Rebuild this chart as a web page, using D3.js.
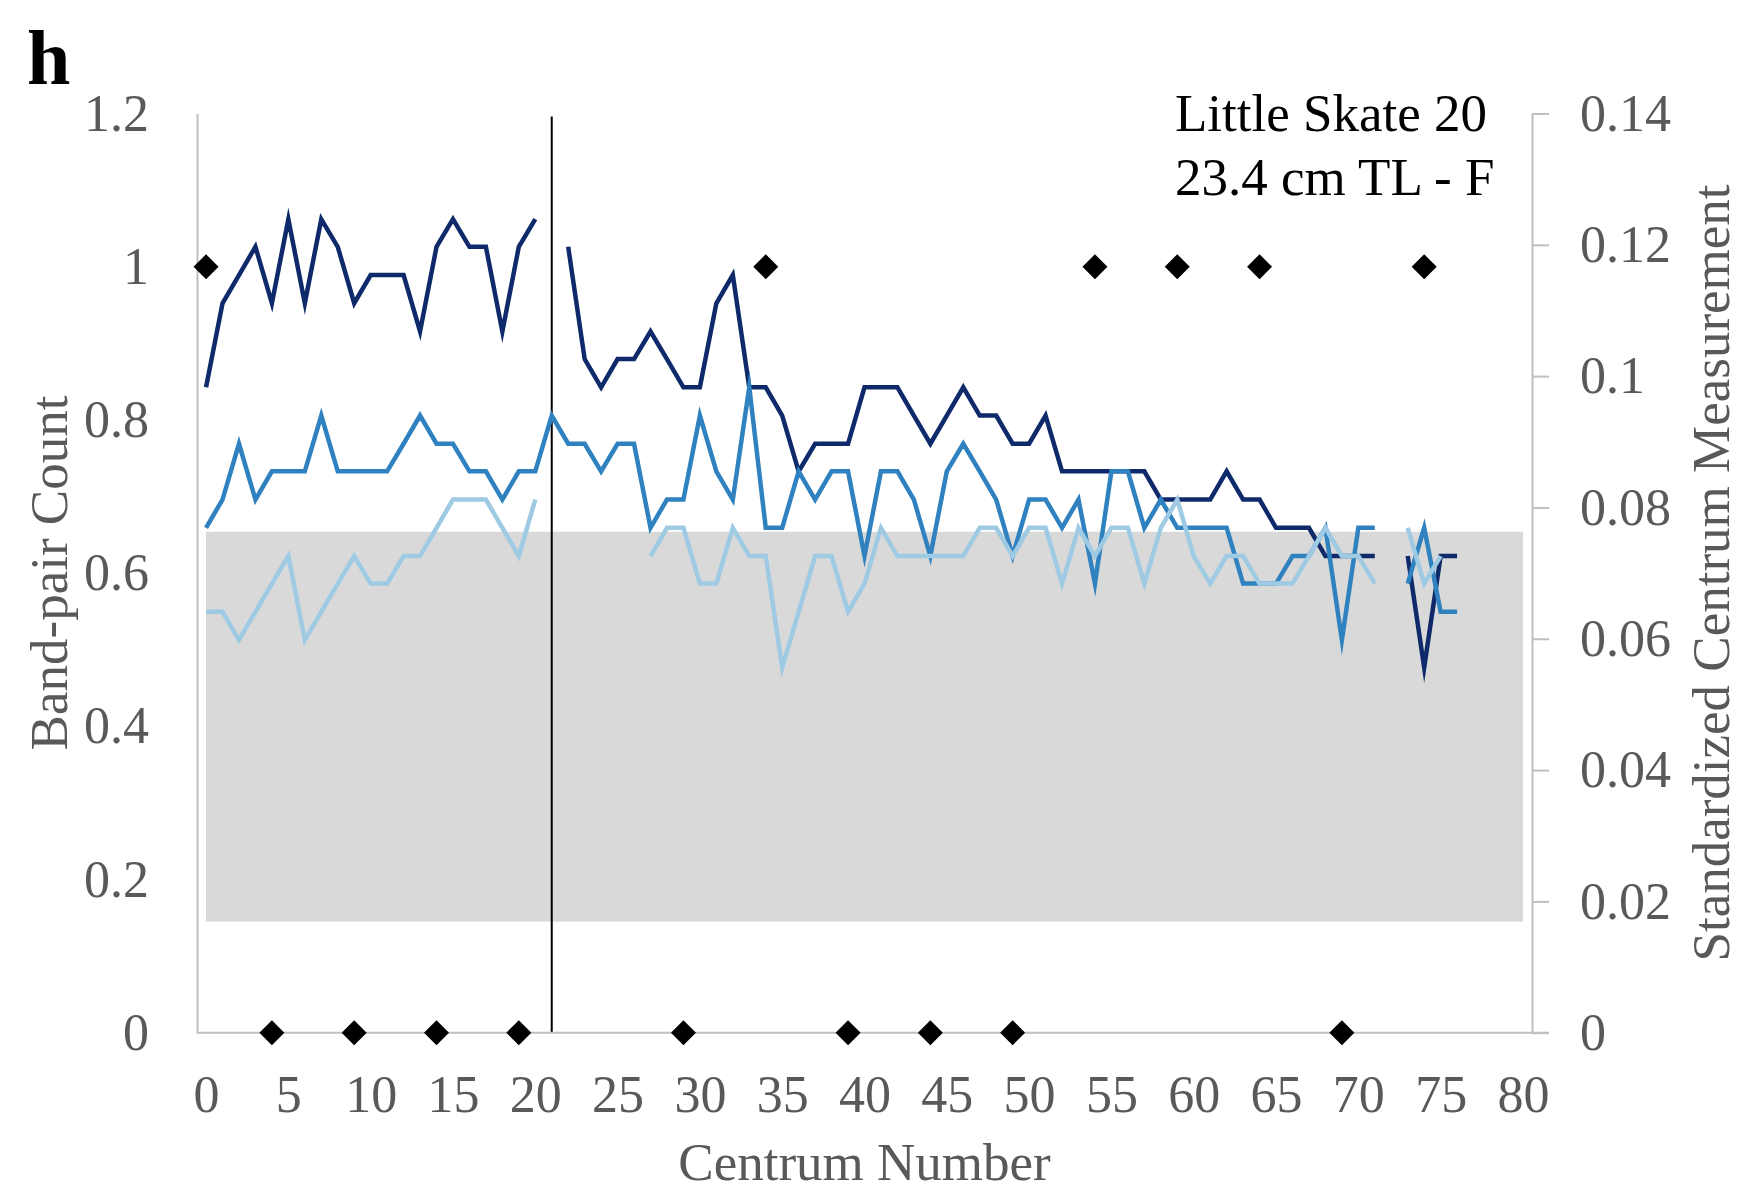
<!DOCTYPE html>
<html>
<head>
<meta charset="utf-8">
<script src="https://cdn.jsdelivr.net/npm/d3@7"></script>
<style>
  html, body { margin: 0; padding: 0; background: #ffffff; }
  svg { display: block; }
  text { font-family: "Liberation Serif", "Times New Roman", Times, serif; }
</style>
</head>
<body>
<svg id="chart" width="1751" height="1191"></svg>
<script>
// Axis ticks
const centrumTicks = [0, 5, 10, 15, 20, 25, 30, 35, 40, 45, 50, 55, 60, 65, 70, 75, 80];
const bandPairTicks = [0, 0.2, 0.4, 0.6, 0.8, 1, 1.2];
const measureTicks = [0, 0.02, 0.04, 0.06, 0.08, 0.1, 0.12, 0.14];

// Standardized centrum measurements, indexed by centrum number (null = not measured)
const seriesDark = [
  .0983, .1111, .1154, .1197, .1111, .1239, .1111, .1239, .1197, .1111,
  .1154, .1154, .1154, .1068, .1197, .1239, .1197, .1197, .1068, .1197,
  .1239, null, .1197, .1026, .0983, .1026, .1026, .1068, .1026, .0983,
  .0983, .1111, .1154, .0983, .0983, .0940, .0855, .0897, .0897, .0897,
  .0983, .0983, .0983, .0940, .0897, .0940, .0983, .0940, .0940, .0897,
  .0897, .0940, .0855, .0855, .0855, .0855, .0855, .0855, .0812, .0812,
  .0812, .0812, .0855, .0812, .0812, .0769, .0769, .0769, .0726, .0726,
  .0726, .0726, null, .0726, .0556, .0726, .0726
];
const seriesMedium = [
  .0769, .0812, .0897, .0812, .0855, .0855, .0855, .0940, .0855, .0855,
  .0855, .0855, .0897, .0940, .0897, .0897, .0855, .0855, .0812, .0855,
  .0855, .0940, .0897, .0897, .0855, .0897, .0897, .0769, .0812, .0812,
  .0940, .0855, .0812, .0983, .0769, .0769, .0855, .0812, .0855, .0855,
  .0726, .0855, .0855, .0812, .0726, .0855, .0897, .0855, .0812, .0726,
  .0812, .0812, .0769, .0812, .0684, .0855, .0855, .0769, .0812, .0769,
  .0769, .0769, .0769, .0684, .0684, .0684, .0726, .0726, .0769, .0598,
  .0769, .0769, null, .0684, .0769, .0641, .0641
];
const seriesLight = [
  .0641, .0641, .0598, .0641, .0684, .0726, .0598, .0641, .0684, .0726,
  .0684, .0684, .0726, .0726, .0769, .0812, .0812, .0812, .0769, .0726,
  .0812, null, null, null, null, null, null, .0726, .0769, .0769,
  .0684, .0684, .0769, .0726, .0726, .0556, .0641, .0726, .0726, .0641,
  .0684, .0769, .0726, .0726, .0726, .0726, .0726, .0769, .0769, .0726,
  .0769, .0769, .0684, .0769, .0726, .0769, .0769, .0684, .0769, .0812,
  .0726, .0684, .0726, .0726, .0684, .0684, .0684, .0726, .0769, .0726,
  .0726, .0684, null, .0769, .0684, .0726, null
];

// Band-pair counts (diamond markers)
const countCentra = [0, 4, 9, 14, 19, 29, 34, 39, 44, 49, 54, 59, 64, 69, 74];
const countValues = [1, 0, 0, 0, 0, 0, 1, 0, 0, 0, 1, 1, 1, 0, 1];

// Shaded reference band (band-pair axis units) and divider position
const bandCentra = [0, 80];
const bandLimits = [0.145, 0.654];
const dividerCentrum = 21;

const svg = d3.select("#chart");
const plotLeft = 197, plotRight = 1532, plotTop = 113.5, plotBottom = 1032.7;
const axisGray = "#bfbfbf", labelGray = "#595959";

const x = d3.scaleLinear().domain([-0.55, 80.55]).range([plotLeft, plotRight]);
const yCount = d3.scaleLinear().domain([0, 1.2]).range([plotBottom, plotTop]);
const yMeas = d3.scaleLinear().domain([0, 0.14]).range([plotBottom, plotTop]);
const fmt = d => d === 0 ? "0" : String(+d.toFixed(2));

// Shaded band
svg.append("rect")
  .attr("x", x(bandCentra[0]))
  .attr("width", x(bandCentra[1]) - x(bandCentra[0]))
  .attr("y", yCount(bandLimits[1]))
  .attr("height", yCount(bandLimits[0]) - yCount(bandLimits[1]))
  .attr("fill", "#d9d9d9");

// Divider line
svg.append("line")
  .attr("x1", x(dividerCentrum)).attr("x2", x(dividerCentrum))
  .attr("y1", yCount(1.2) + 3).attr("y2", plotBottom)
  .attr("stroke", "#000").attr("stroke-width", 2);

// Axes
const gLeft = svg.append("g").attr("transform", `translate(${plotLeft},0)`)
  .call(d3.axisLeft(yCount).tickValues(bandPairTicks).tickFormat(fmt)
    .tickSize(0).tickSizeOuter(0).tickPadding(48));
gLeft.select(".domain").attr("stroke", axisGray).attr("stroke-width", 2);

const gRight = svg.append("g").attr("transform", `translate(${plotRight},0)`)
  .call(d3.axisRight(yMeas).tickValues(measureTicks).tickFormat(fmt)
    .tickSize(17).tickSizeOuter(0).tickPadding(31));
gRight.select(".domain").attr("stroke", axisGray).attr("stroke-width", 2);
gRight.selectAll(".tick line").attr("stroke", axisGray).attr("stroke-width", 2);

const gBottom = svg.append("g").attr("transform", `translate(0,${plotBottom})`)
  .call(d3.axisBottom(x).tickValues(centrumTicks).tickFormat(d3.format("d"))
    .tickSize(0).tickSizeOuter(0).tickPadding(42));
gBottom.select(".domain").remove();
svg.append("line")
  .attr("x1", plotLeft).attr("x2", plotRight + 17)
  .attr("y1", plotBottom).attr("y2", plotBottom)
  .attr("stroke", axisGray).attr("stroke-width", 2);

svg.selectAll(".tick text")
  .attr("fill", labelGray)
  .style("font-family", '"Liberation Serif", "Times New Roman", serif')
  .style("font-size", "52px");

// Measurement lines
const line = d3.line()
  .defined(d => d != null)
  .x((d, i) => x(i))
  .y(d => yMeas(d));

[[seriesDark, "#0e2a6a"], [seriesMedium, "#2f82bf"], [seriesLight, "#9fcae3"]]
  .forEach(([values, color]) => {
    svg.append("path")
      .datum(values)
      .attr("d", line)
      .attr("fill", "none")
      .attr("stroke", color)
      .attr("stroke-width", 4.5)
      .attr("stroke-linejoin", "miter")
      .attr("stroke-miterlimit", 10);
  });

// Band-pair count markers
const r = 12.5;
svg.append("g").selectAll("path")
  .data(countCentra.map((c, i) => [c, countValues[i]]))
  .join("path")
  .attr("transform", d => `translate(${x(d[0])},${yCount(d[1])})`)
  .attr("d", `M0,${-r}L${r},0L0,${r}L${-r},0Z`)
  .attr("fill", "#000");

// Axis titles
svg.append("text")
  .attr("transform", "translate(67,573) rotate(-90)")
  .attr("text-anchor", "middle")
  .attr("fill", labelGray)
  .style("font-size", "53px")
  .text("Band-pair Count");

svg.append("text")
  .attr("transform", "translate(1729,573) rotate(-90)")
  .attr("text-anchor", "middle")
  .attr("fill", labelGray)
  .style("font-size", "53px")
  .text("Standardized Centrum Measurement");

svg.append("text")
  .attr("x", (plotLeft + plotRight) / 2).attr("y", 1180)
  .attr("text-anchor", "middle")
  .attr("fill", labelGray)
  .style("font-size", "53px")
  .text("Centrum Number");

// Specimen label
svg.append("text")
  .attr("x", 1175).attr("y", 131)
  .attr("fill", "#000")
  .style("font-size", "53px")
  .text("Little Skate 20");
svg.append("text")
  .attr("x", 1175).attr("y", 195)
  .attr("fill", "#000")
  .style("font-size", "53px")
  .text("23.4 cm TL - F");

// Panel letter
svg.append("text")
  .attr("x", 27).attr("y", 84)
  .attr("fill", "#000")
  .style("font-size", "78px")
  .style("font-weight", "bold")
  .text("h");
</script>
</body>
</html>
